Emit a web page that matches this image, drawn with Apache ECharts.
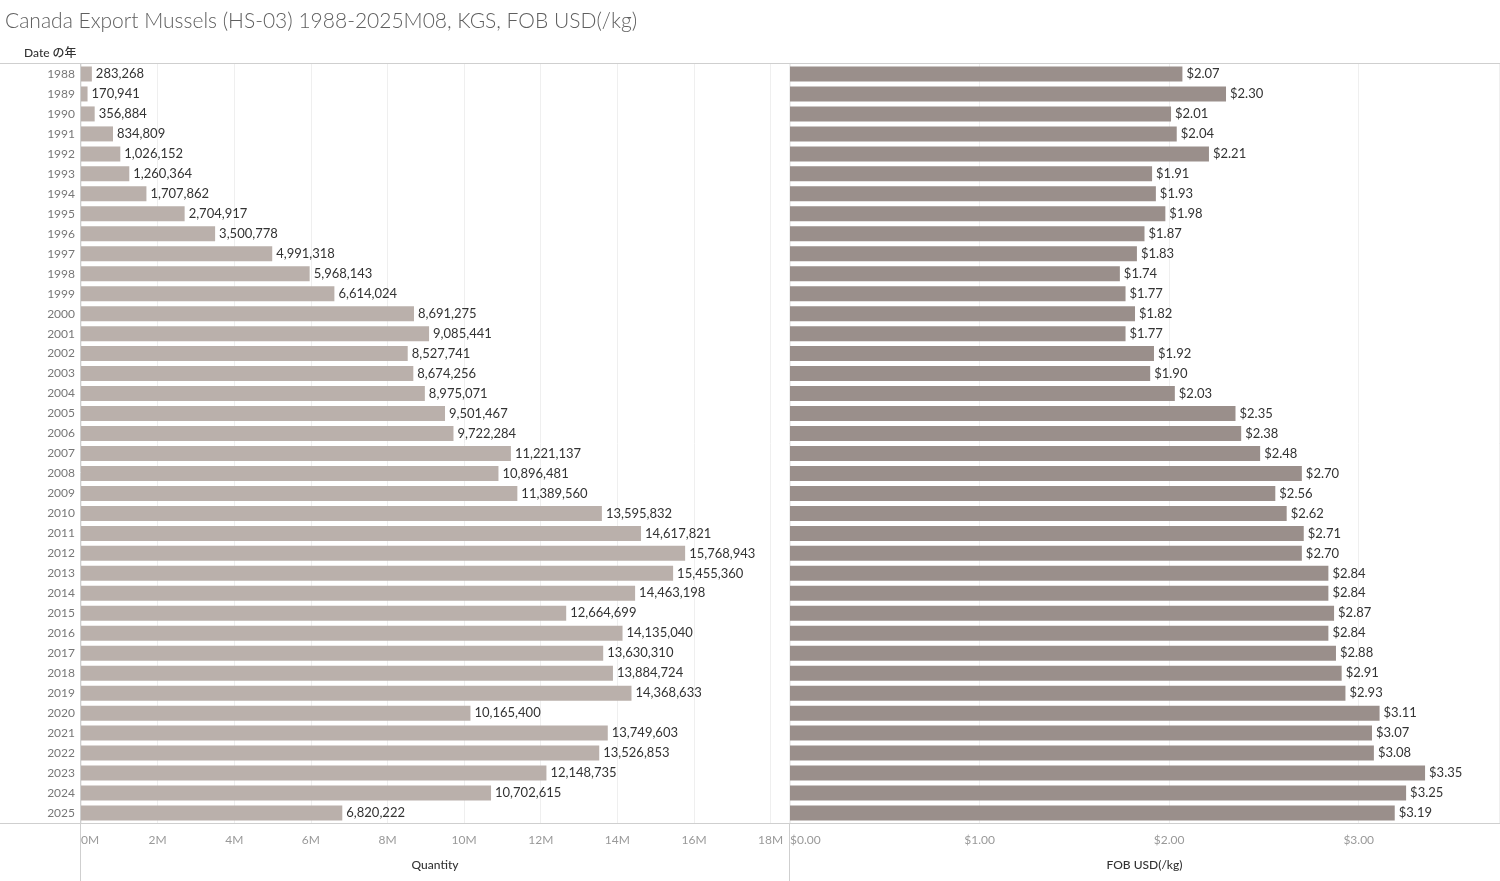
<!DOCTYPE html>
<html><head><meta charset="utf-8">
<script src="https://cdn.jsdelivr.net/npm/echarts@6/dist/echarts.min.js"></script>
<style>html,body{margin:0;padding:0;background:#fff}#c{width:1500px;height:881px}</style>
</head><body><div id="c"></div>
<script>
const years = ['1988','1989','1990','1991','1992','1993','1994','1995','1996','1997','1998','1999','2000','2001','2002','2003','2004','2005','2006','2007','2008','2009','2010','2011','2012','2013','2014','2015','2016','2017','2018','2019','2020','2021','2022','2023','2024','2025'];
const quantity = [283268,170941,356884,834809,1026152,1260364,1707862,2704917,3500778,4991318,5968143,6614024,8691275,9085441,8527741,8674256,8975071,9501467,9722284,11221137,10896481,11389560,13595832,14617821,15768943,15455360,14463198,12664699,14135040,13630310,13884724,14368633,10165400,13749603,13526853,12148735,10702615,6820222];
const fob = [2.07,2.30,2.01,2.04,2.21,1.91,1.93,1.98,1.87,1.83,1.74,1.77,1.82,1.77,1.92,1.90,2.03,2.35,2.38,2.48,2.70,2.56,2.62,2.71,2.70,2.84,2.84,2.87,2.84,2.88,2.91,2.93,3.11,3.07,3.08,3.35,3.25,3.19];

const chart = echarts.init(document.getElementById('c'));
const FONT = 'Lato, "Open Sans", sans-serif';
const fmtInt = v => v.toLocaleString('en-US');
chart.setOption({
  animation:false,
  textStyle:{fontFamily:FONT},
  title:{text:'Canada Export Mussels (HS-03) 1988-2025M08, KGS, FOB USD(/kg)',left:0,top:6,
    textStyle:{fontFamily:FONT,fontSize:21,fontWeight:300,color:'#5f5f5f'}},
  graphic:[
    {type:'text',left:24,top:47,style:{text:'Date の年',font:'500 12px Lato, "Noto Sans CJK JP", sans-serif',fill:'#333'}},
    {type:'line',shape:{x1:0,y1:63.5,x2:1500,y2:63.5},style:{stroke:'#cfcfcf',lineWidth:1}},
    {type:'line',shape:{x1:0,y1:823.5,x2:1500,y2:823.5},style:{stroke:'#cfcfcf',lineWidth:1}},
    {type:'line',shape:{x1:80.5,y1:64,x2:80.5,y2:881},style:{stroke:'#cfcfcf',lineWidth:1}},
    {type:'line',shape:{x1:789.5,y1:64,x2:789.5,y2:881},style:{stroke:'#cfcfcf',lineWidth:1}},
    {type:'line',shape:{x1:1499.5,y1:64,x2:1499.5,y2:823},style:{stroke:'#cfcfcf',lineWidth:1}}
  ],
  grid:[
    {left:81,width:708,top:64,height:759,outerBoundsMode:'none'},
    {left:790,width:709,top:64,height:759,outerBoundsMode:'none'}
  ],
  xAxis:[
    {gridIndex:0,type:'value',min:0,max:18480000,interval:2000000,
     axisLine:{show:false},axisTick:{show:false},
     splitLine:{lineStyle:{color:'#efefef'}},
     axisLabel:{color:'#999',fontSize:12,margin:11,alignMinLabel:'left',showMaxLabel:false,formatter:v=>(v/1e6)+'M'},
     name:'Quantity',nameLocation:'middle',nameGap:36,nameTextStyle:{color:'#333',fontSize:12,fontWeight:500}},
    {gridIndex:1,type:'value',min:0,max:3.74,interval:1,
     axisLine:{show:false},axisTick:{show:false},
     splitLine:{lineStyle:{color:'#efefef'}},
     axisLabel:{color:'#999',fontSize:12,margin:11,alignMinLabel:'left',showMaxLabel:false,formatter:v=>'$'+v.toFixed(2)},
     name:'FOB USD(/kg)',nameLocation:'middle',nameGap:36,nameTextStyle:{color:'#333',fontSize:12,fontWeight:500}}
  ],
  yAxis:[
    {gridIndex:0,type:'category',data:years,inverse:true,
     axisLine:{show:false},axisTick:{show:false},
     axisLabel:{color:'#777',fontSize:12,margin:6}},
    {gridIndex:1,type:'category',data:years,inverse:true,
     axisLine:{show:false},axisTick:{show:false},axisLabel:{show:false}}
  ],
  series:[
    {type:'bar',xAxisIndex:0,yAxisIndex:0,data:quantity,barWidth:15,
     itemStyle:{color:'#bab0ab'},
     label:{show:true,position:'right',distance:4,color:'#333',fontSize:13,formatter:p=>fmtInt(p.value)}},
    {type:'bar',xAxisIndex:1,yAxisIndex:1,data:fob,barWidth:15,
     itemStyle:{color:'#9a8f8b'},
     label:{show:true,position:'right',distance:4,color:'#333',fontSize:13,formatter:p=>'$'+p.value.toFixed(2)}}
  ]
});
</script></body></html>
